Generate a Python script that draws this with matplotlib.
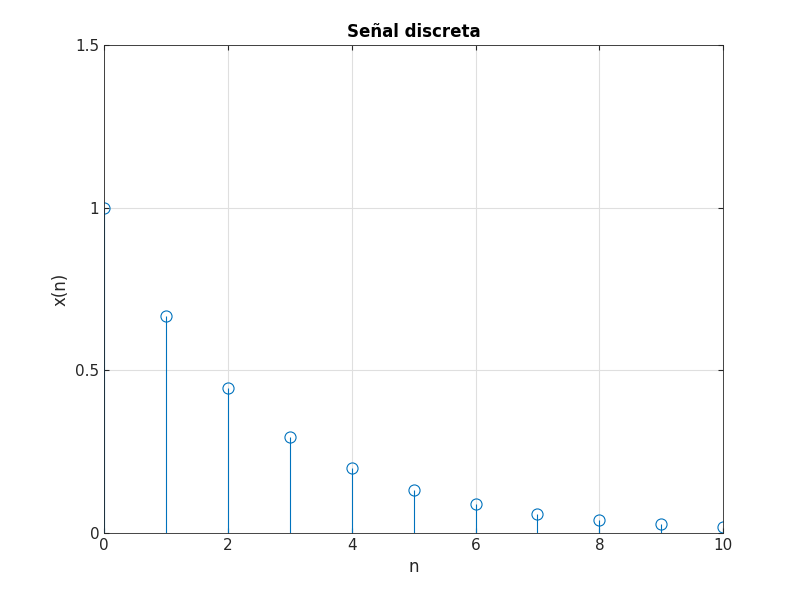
import matplotlib
matplotlib.use("Agg")
import matplotlib.pyplot as plt

n = [0, 1, 2, 3, 4, 5, 6, 7, 8, 9, 10]
x = [1.0, 0.667, 0.444, 0.296, 0.198, 0.132, 0.088, 0.059, 0.039, 0.026, 0.017]

color = "#0072BD"

fig = plt.figure(figsize=(8, 6), dpi=100)
ax = fig.add_axes([0.13, 0.112, 0.774, 0.813])

markerline, stemlines, baseline = ax.stem(n, x, basefmt=" ")
plt.setp(markerline, marker="o", markersize=8, markerfacecolor="none",
         markeredgecolor=color, markeredgewidth=0.8)
plt.setp(stemlines, color=color, linewidth=0.8)

ax.set_xlim(0, 10)
ax.set_ylim(0, 1.5)
ax.set_xticks(range(0, 11, 2))
ax.set_yticks([0, 0.5, 1, 1.5])
ax.set_yticklabels(["0", "0.5", "1", "1.5"])
ax.grid(True, color="#dfdfdf", linewidth=0.8)
ax.set_axisbelow(True)
for s in ax.spines.values():
    s.set_color("#262626")
    s.set_linewidth(0.6)
ax.tick_params(direction="in", labelsize=11, colors="#262626", top=True, right=True)

ax.set_title("Señal discreta", fontsize=12, fontweight="bold")
ax.set_xlabel("n", fontsize=12, color="#262626")
ax.set_ylabel("x(n)", fontsize=12, color="#262626")

fig.savefig("out.png", dpi=100)
